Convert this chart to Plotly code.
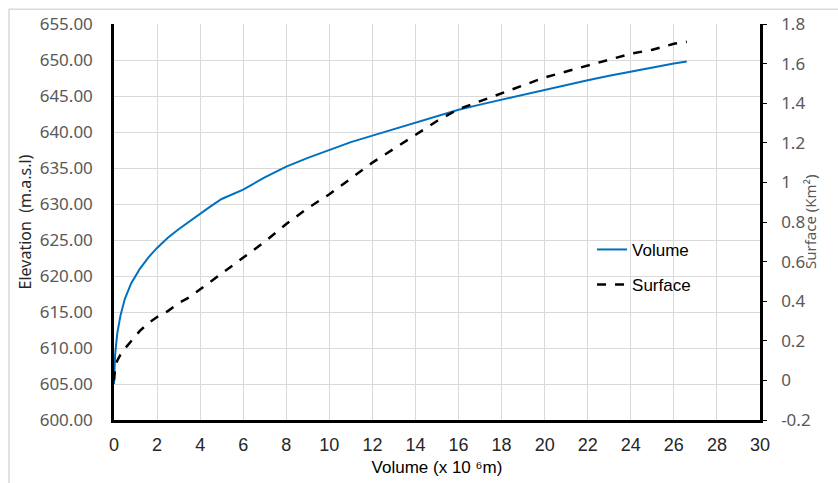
import plotly.graph_objects as go

volume = [0, 0.05, 0.15, 0.3, 0.5, 0.8, 1.2, 1.6, 2.0, 2.5, 3.0, 3.5, 4.0, 4.5, 5.0, 5.5, 6.0,
          7, 8, 9, 10, 11, 12, 13, 14, 15, 16, 17, 18, 19, 20, 21, 22, 23, 24, 25, 26, 26.6]
elevation = [605, 609, 612, 614.5, 616.8, 619, 621, 622.6, 623.9, 625.3, 626.5, 627.6, 628.6,
             629.7, 630.7, 631.3, 632.0, 633.7, 635.2, 636.4, 637.5, 638.6, 639.5, 640.4, 641.4,
             642.3, 643.1, 643.8, 644.5, 645.2, 645.9, 646.6, 647.2, 647.8, 648.4, 649.0, 649.5, 649.8]
surface = [0.0, 0.06, 0.1, 0.13, 0.16, 0.2, 0.25, 0.29, 0.32, 0.35, 0.39, 0.42, 0.46, 0.50, 0.54,
           0.58, 0.62, 0.70, 0.79, 0.87, 0.94, 1.02, 1.10, 1.17, 1.24, 1.31, 1.37, 1.41, 1.45, 1.49,
           1.53, 1.56, 1.59, 1.62, 1.65, 1.67, 1.70, 1.71]

x_ticks = list(range(0, 31, 2))
left_ticks = [600 + 5 * i for i in range(12)]
right_ticks = [round(-0.2 + 0.2 * i, 1) for i in range(11)]

GRAY = "#595959"
NARROW = "Liberation Sans Narrow, Arial Narrow, sans-serif"
REG = "Noto Sans, Open Sans, sans-serif"
CLEAR = "rgba(0,0,0,0)"

fig = go.Figure()
fig.add_trace(go.Scatter(x=volume, y=elevation, name="Volume", mode="lines", legendgroup="a",
                         line=dict(color="#0070C0", width=2)))
fig.add_trace(go.Scatter(x=volume, y=surface, name="Surface", mode="lines", yaxis="y2",
                         legendgroup="b", line=dict(color="black", width=2.5, dash="dash")))
# invisible trace to activate the tick-mark axis
fig.add_trace(go.Scatter(x=[None], y=[None], yaxis="y3", showlegend=False, hoverinfo="skip"))

fig.update_layout(
    width=838, height=483,
    margin=dict(l=114, r=78, t=20, b=63),
    paper_bgcolor="white", plot_bgcolor="white",
    showlegend=True,
    legend=dict(x=0.74, y=0.475, xanchor="left", yanchor="top",
                font=dict(family=NARROW, size=17, color="black"),
                bgcolor=CLEAR, tracegroupgap=10),
    xaxis=dict(range=[0, 30], tickvals=x_ticks, ticktext=[str(v) for v in x_ticks],
               showgrid=True, gridcolor="#d9d9d9", gridwidth=1,
               showline=True, linecolor="black", linewidth=2.5,
               ticks="outside", ticklen=7, tickcolor=CLEAR,
               tickfont=dict(family=NARROW, size=18, color="#262626"),
               title=dict(text="Volume (x 10 ⁶m)", font=dict(family=NARROW, size=17, color="black"),
                          standoff=7),
               automargin=False,
               zeroline=False),
    yaxis=dict(range=[600, 655], tickvals=left_ticks, ticktext=[f"{v:.2f}" for v in left_ticks],
               showgrid=True, gridcolor="#d9d9d9", gridwidth=1,
               showline=True, linecolor="black", linewidth=2.5,
               ticks="outside", ticklen=15, tickcolor=CLEAR,
               tickfont=dict(family=REG, size=17, color=GRAY),
               title=dict(text="Elevation  (m.a.s.l)", font=dict(family=REG, size=16, color="#262626"),
                          standoff=5),
               zeroline=False),
    yaxis2=dict(range=[-0.2, 1.8], overlaying="y", side="right",
                tickvals=right_ticks, ticktext=[("0" if v == 0 else f"{v:g}") for v in right_ticks],
                showgrid=False, showline=True, linecolor="black", linewidth=2.5,
                ticks="outside", ticklen=15, tickcolor=CLEAR,
                tickfont=dict(family=REG, size=17, color=GRAY),
                automargin=False,
                zeroline=False),
    yaxis3=dict(range=[-0.2, 1.8], overlaying="y", side="right",
                tickvals=right_ticks, showticklabels=False,
                showgrid=False, showline=False, automargin=False,
                ticks="outside", ticklen=6, tickcolor="black", tickwidth=1.2,
                zeroline=False),
    annotations=[dict(text="Surface (Km²)", xref="paper", yref="paper",
                      x=(810 - 114) / 646, y=0.5, textangle=-90, showarrow=False,
                      xanchor="center", yanchor="middle",
                      font=dict(family=REG, size=15, color=GRAY))],
    shapes=[dict(type="rect", xref="paper", yref="paper",
                 x0=-0.1625, x1=1.2, y0=-0.3, y1=1.0375,
                 line=dict(color="#d9d9d9", width=1.5), layer="below")],
)

fig.write_html("out.html")
